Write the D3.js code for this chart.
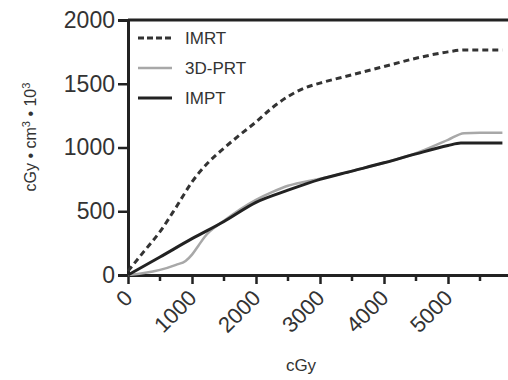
<!DOCTYPE html>
<html><head><meta charset="utf-8">
<script src="https://cdn.jsdelivr.net/npm/d3@7"></script>
<style>body{margin:0;background:#fff}svg{display:block}text{font-family:"Liberation Sans",Arial,sans-serif;fill:#333}</style>
</head><body><svg id="c" width="508" height="380"></svg>
<script>
const xTicks = [0, 1000, 2000, 3000, 4000, 5000];
const xMinorTicks = [500, 1500, 2500, 3500, 4500, 5500];
const yTicks = [0, 500, 1000, 1500, 2000];
const seriesNames = ["IMRT", "3D-PRT", "IMPT"];
const imrtDose = [0, 250, 500, 750, 1000, 1250, 1500, 1750, 2000, 2250, 2500, 2750, 3000, 3500, 4000, 4500, 5000, 5250, 5500, 5850];
const imrtVals = [30, 185, 340, 530, 730, 880, 995, 1100, 1200, 1310, 1400, 1465, 1505, 1570, 1635, 1700, 1750, 1765, 1765, 1765];
const prtDose = [0, 250, 500, 750, 900, 1000, 1100, 1200, 1500, 2000, 2250, 2500, 2750, 3000, 3500, 4000, 4500, 5000, 5250, 5500, 5850];
const prtVals = [0, 15, 40, 80, 110, 160, 230, 300, 425, 590, 650, 700, 730, 755, 815, 880, 955, 1060, 1112, 1115, 1115];
const imptDose = [0, 500, 1000, 1500, 2000, 2500, 3000, 3500, 4000, 4500, 5000, 5200, 5850];
const imptVals = [0, 141, 285, 420, 570, 665, 750, 815, 880, 950, 1015, 1035, 1035];

const svg = d3.select("#c");
const x = d3.scaleLinear().domain([0, 6000]).range([128, 512]);
const y = d3.scaleLinear().domain([0, 2000]).range([275, 20]);
const axisColor = "#222";

// top frame line
svg.append("line").attr("x1", x(0)).attr("x2", 520).attr("y1", y(2000)).attr("y2", y(2000))
  .attr("stroke", axisColor).attr("stroke-width", 3);

// y axis
const ya = svg.append("g").attr("transform", `translate(${x(0)},0)`)
  .call(d3.axisLeft(y).tickValues(yTicks).tickSize(10).tickPadding(3).tickFormat(d3.format("d")));
ya.select(".domain").attr("stroke", axisColor).attr("stroke-width", 3);
ya.selectAll(".tick line").attr("stroke", axisColor).attr("stroke-width", 2.5);
ya.selectAll(".tick text").attr("font-size", 23).attr("fill", "#333")
  .attr("font-family", '"Liberation Sans",Arial,sans-serif');

// x axis
const xa = svg.append("g").attr("transform", `translate(0,${y(0)})`)
  .call(d3.axisBottom(x).tickValues(xTicks).tickSize(9).tickSizeOuter(0).tickFormat(d3.format("d")));
xa.select(".domain").attr("stroke", axisColor).attr("stroke-width", 3);
xa.selectAll(".tick line").attr("stroke", axisColor).attr("stroke-width", 2.5);
xa.selectAll(".tick text").attr("font-size", 22).attr("fill", "#333")
  .attr("font-family", '"Liberation Sans",Arial,sans-serif')
  .attr("text-anchor", "end").attr("y", 0).attr("dy", "0.35em")
  .attr("transform", "translate(0,19) rotate(-45)");
xa.selectAll(".minor").data(xMinorTicks).enter().append("line").attr("class", "minor")
  .attr("x1", d => x(d)).attr("x2", d => x(d)).attr("y1", 0).attr("y2", 6)
  .attr("stroke", axisColor).attr("stroke-width", 2.5);

// lines
const line = d3.line().x(d => x(d[0])).y(d => y(d[1])).curve(d3.curveMonotoneX);
const zipS = (a, b) => a.map((d, i) => [d, b[i]]);
const series = [
  {name: seriesNames[0], pts: zipS(imrtDose, imrtVals), color: "#333", width: 3, dash: "6,4"},
  {name: seriesNames[1], pts: zipS(prtDose, prtVals), color: "#a8a8a8", width: 2.5, dash: null},
  {name: seriesNames[2], pts: zipS(imptDose, imptVals), color: "#222", width: 3, dash: null}
];
series.forEach(s => {
  svg.append("path").attr("d", line(s.pts)).attr("fill", "none")
    .attr("stroke", s.color).attr("stroke-width", s.width)
    .attr("stroke-dasharray", s.dash);
});

// legend
series.forEach((s, i) => {
  const ly = 38 + i * 30;
  svg.append("line").attr("x1", 138).attr("x2", 172).attr("y1", ly).attr("y2", ly)
    .attr("stroke", s.color).attr("stroke-width", s.width).attr("stroke-dasharray", s.dash ? "6,3" : null);
  svg.append("text").attr("x", 185).attr("y", ly).attr("dy", "0.35em").attr("font-size", 17).text(s.name);
});

// axis titles
svg.append("text").attr("x", 301).attr("y", 371).attr("text-anchor", "middle").attr("font-size", 17).text("cGy");
const yl = svg.append("text").attr("transform", "translate(36,137) rotate(-90)").attr("text-anchor", "middle").attr("font-size", 16);
yl.append("tspan").text("cGy • cm");
yl.append("tspan").attr("dy", -6).attr("font-size", 11).text("3");
yl.append("tspan").attr("dy", 6).text(" • 10");
yl.append("tspan").attr("dy", -6).attr("font-size", 11).text("3");
</script></body></html>
